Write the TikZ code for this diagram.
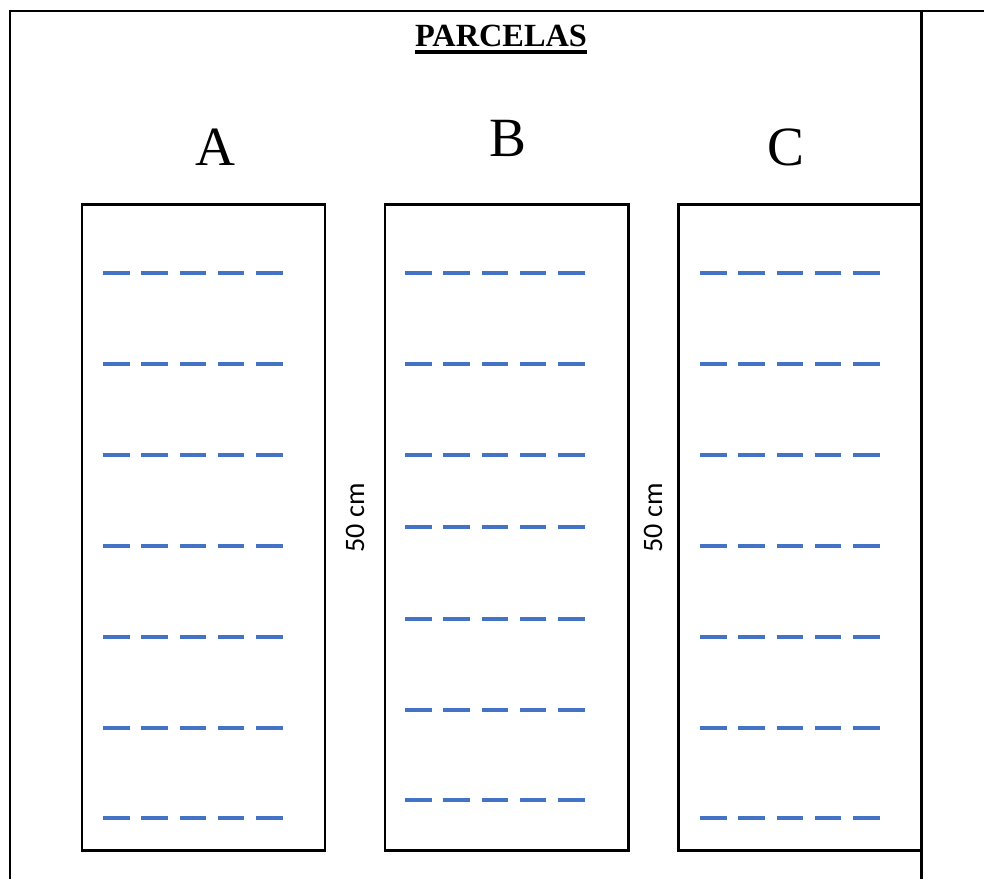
\documentclass[tikz,border=0pt]{standalone}
\usepackage{fontspec}
\setmainfont{Liberation Serif}
\newfontfamily\calibri{Carlito}
\usepackage{xcolor}
\usepackage{tikz}
\usetikzlibrary{positioning}

\definecolor{surcoazul}{HTML}{4472C4}

\begin{document}
\begin{tikzpicture}[
    x=0.2mm, y=-0.2mm,
    linea/.style={line width=1.7pt},
    parcela/.style={
      draw, line width=1.7pt, inner sep=0pt, outer sep=0pt,
      minimum width=48.6mm, minimum height=129mm
    },
    letra/.style={font=\fontsize{31.5}{33}\selectfont, anchor=base, inner sep=0pt},
    medida/.style={font=\calibri\fontsize{16}{18}\selectfont, rotate=90, inner sep=0pt},
    surco/.style={draw=surcoazul, line width=2.3pt, dash pattern=on 15.1pt off 6.7pt}
  ]
    \useasboundingbox (0,0) rectangle (984,879);

    % Marco
    \draw[linea] (984,11) -- (10,11) -- (10,879);
    \draw[linea] (921,11) -- (921,879);

    % Titulo
    \node[anchor=base, inner sep=0pt, font=\fontsize{18.4}{20}\selectfont\bfseries] (titulo) at (501,47) {PARCELAS};
    \draw[line width=2.1pt] ([yshift=-2.9pt]titulo.base west) -- ([yshift=-2.9pt]titulo.base east);

    % Parcelas
    \node[parcela] (parcelaA) at (203.5,527.5) {};
    \node[parcela] (parcelaB) at (506.5,527.5) {};
    \node[parcela] (parcelaC) at (800,527.5) {};

    \node[letra] (letraA) at (215,166) {A};
    \node[letra] (letraB) at (508,157) {B};
    \node[letra] (letraC) at (786,166) {C};

    % Separaciones
    \node[medida] (medidaAB) at (355,518) {50 cm};
    \node[medida] (medidaBC) at (653,518) {50 cm};

    % Surcos
    \foreach \y in {273,364,455,546,637,728,818}
      \draw[surco] (103,\y) -- (284,\y);
    \foreach \y in {273,364,455,527,619,710,800}
      \draw[surco] (405,\y) -- (586,\y);
    \foreach \y in {273,364,455,546,637,728,818}
      \draw[surco] (700,\y) -- (881,\y);
  \end{tikzpicture}
\end{document}
